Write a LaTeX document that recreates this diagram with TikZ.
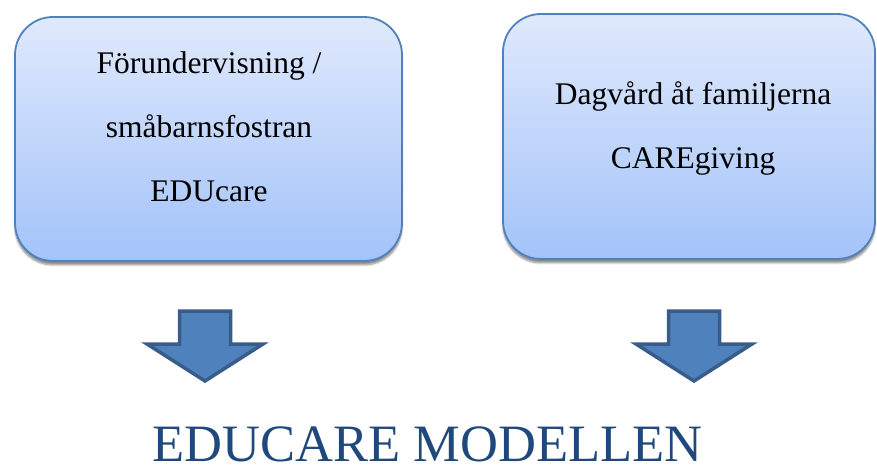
\documentclass[tikz,border=0pt]{standalone}
\usepackage{fontspec}
\setmainfont{Liberation Serif}
\usepackage{xcolor}
\usepackage{tikz}
\usetikzlibrary{shadows.blur, positioning}
\definecolor{boxtop}{RGB}{224,233,251}
\definecolor{boxbot}{RGB}{163,195,250}
\definecolor{boxline}{RGB}{79,129,189}
\definecolor{arrowfill}{RGB}{79,129,189}
\definecolor{arrowline}{RGB}{56,93,138}
\definecolor{titleblue}{RGB}{31,73,125}
\tikzset{
  card/.style={rectangle, draw=boxline, line width=1.8pt,
    top color=boxtop, bottom color=boxbot, rounded corners=38pt,
    blur shadow={shadow xshift=0pt, shadow yshift=-4pt,
      shadow opacity=45, shadow blur steps=6}},
  cardtext/.style={align=center, font=\fontsize{31.5}{64}\selectfont, text=black},
  blockarrow/.style={fill=arrowfill, draw=arrowline, line width=3.5pt},
  pics/downarrow/.style={code={
    \draw[blockarrow] (-25.5,0) -- (25.5,0) -- (25.5,-33) -- (58,-33)
      -- (0,-70) -- (-58,-33) -- (-25.5,-33) -- cycle;
  }}
}

\begin{document}
\begin{tikzpicture}[x=1pt, y=1pt]
\useasboundingbox (0,0) rectangle (877,466);

% the two boxes
\node[card, minimum width=387pt, minimum height=244pt] (edu) at (208.5,327) {};
\node[card, minimum width=372pt, minimum height=245pt] (care) at (689,329.5) {};

\node[cardtext] (edutext) at (209,339.5) {Förundervisning /\\småbarnsfostran\\EDUcare};
\node[cardtext] (caretext) at (693,338) {Dagvård åt familjerna\\CAREgiving};

% arrows under the boxes
\pic (eduarrow) at (205,155) {downarrow};
\pic (carearrow) at (694,155) {downarrow};

\node[font=\fontsize{52.5}{60}\selectfont, text=titleblue, anchor=base, inner sep=0pt] (title) at (427.5,5) {EDUCARE MODELLEN};
\end{tikzpicture}
\end{document}
